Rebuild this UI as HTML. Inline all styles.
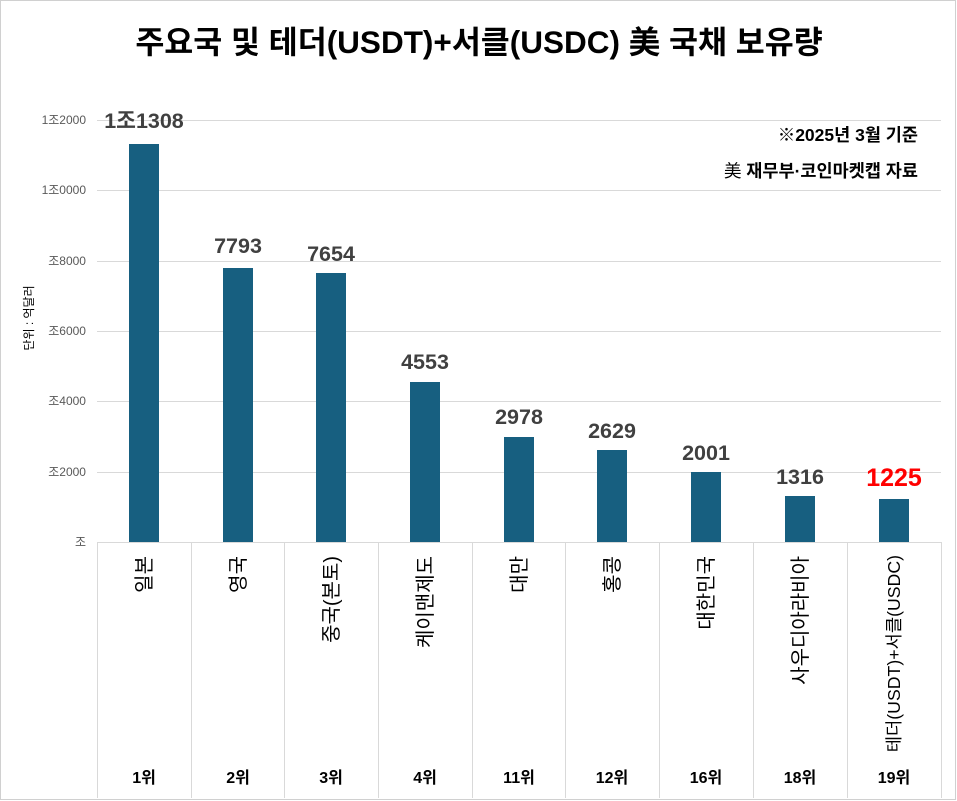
<!DOCTYPE html>
<html><head><meta charset="utf-8"><style>
html,body{margin:0;padding:0;background:#fff;}
svg{display:block;font-family:"Liberation Sans","Noto Sans CJK KR",sans-serif;}
</style></head><body>
<svg width="957" height="801" viewBox="0 0 957 801" xmlns="http://www.w3.org/2000/svg">
<rect x="0.5" y="0.5" width="955" height="799" fill="#fff" stroke="#d0d0d0"/>
<text x="479" y="53" text-anchor="middle" font-size="31.5" font-weight="bold" fill="#000">주요국 및 테더(USDT)+서클(USDC) 美 국채 보유량</text>
<g stroke="#d9d9d9" stroke-width="1">
<line x1="97" y1="120.5" x2="941" y2="120.5"/>
<line x1="97" y1="190.5" x2="941" y2="190.5"/>
<line x1="97" y1="261.5" x2="941" y2="261.5"/>
<line x1="97" y1="331.5" x2="941" y2="331.5"/>
<line x1="97" y1="401.5" x2="941" y2="401.5"/>
<line x1="97" y1="472.5" x2="941" y2="472.5"/>
<line x1="97" y1="542.5" x2="941" y2="542.5"/>
<line x1="97.5" y1="542" x2="97.5" y2="798"/>
<line x1="191.5" y1="542" x2="191.5" y2="798"/>
<line x1="284.5" y1="542" x2="284.5" y2="798"/>
<line x1="378.5" y1="542" x2="378.5" y2="798"/>
<line x1="472.5" y1="542" x2="472.5" y2="798"/>
<line x1="565.5" y1="542" x2="565.5" y2="798"/>
<line x1="659.5" y1="542" x2="659.5" y2="798"/>
<line x1="753.5" y1="542" x2="753.5" y2="798"/>
<line x1="847.5" y1="542" x2="847.5" y2="798"/>
<line x1="941.5" y1="542" x2="941.5" y2="798"/>
</g>
<g font-size="12" fill="#595959" text-anchor="end">
<text x="86" y="124">1조2000</text>
<text x="86" y="194">1조0000</text>
<text x="86" y="265">조8000</text>
<text x="86" y="335">조6000</text>
<text x="86" y="405">조4000</text>
<text x="86" y="476">조2000</text>
<text x="86" y="546">조</text>
</g>
<text transform="translate(33,318) rotate(-90)" text-anchor="middle" font-size="12" fill="#000">단위 : 억달러</text>
<g fill="#175f80">
<rect x="129" y="144" width="30" height="398"/>
<rect x="223" y="268" width="30" height="274"/>
<rect x="316" y="273" width="30" height="269"/>
<rect x="410" y="382" width="30" height="160"/>
<rect x="504" y="437" width="30" height="105"/>
<rect x="597" y="450" width="30" height="92"/>
<rect x="691" y="472" width="30" height="70"/>
<rect x="785" y="496" width="30" height="46"/>
<rect x="879" y="499" width="30" height="43"/>
</g>
<g font-size="21.5" font-weight="bold" fill="#404040" text-anchor="middle">
<text x="144" y="128">1조1308</text>
<text x="238" y="253">7793</text>
<text x="331" y="261">7654</text>
<text x="425" y="369">4553</text>
<text x="519" y="424">2978</text>
<text x="612" y="438">2629</text>
<text x="706" y="460">2001</text>
<text x="800" y="484">1316</text>
<text x="894" y="486" fill="#ff0000" font-size="25">1225</text>
</g>
<g font-size="17.5" font-weight="bold" fill="#000" text-anchor="end">
<text x="918" y="141">※2025년 3월 기준</text>
<text x="918" y="177"><tspan font-weight="normal">美</tspan> 재무부·코인마켓캡 자료</text>
</g>
<g font-size="20" fill="#000" text-anchor="end">
<text transform="translate(151,556) rotate(-90)">일본</text>
<text transform="translate(245,556) rotate(-90)">영국</text>
<text transform="translate(338,556) rotate(-90)">중국(본토)</text>
<text transform="translate(432,556) rotate(-90)">케이맨제도</text>
<text transform="translate(526,556) rotate(-90)">대만</text>
<text transform="translate(619,556) rotate(-90)">홍콩</text>
<text transform="translate(713,556) rotate(-90)">대한민국</text>
<text transform="translate(807,556) rotate(-90)">사우디아라비아</text>
<text transform="translate(900,555) rotate(-90)" font-size="17.7">테더(USDT)+서클(USDC)</text>
</g>
<g font-size="16" font-weight="bold" fill="#000" text-anchor="middle">
<text x="144" y="783">1위</text>
<text x="238" y="783">2위</text>
<text x="331" y="783">3위</text>
<text x="425" y="783">4위</text>
<text x="519" y="783">11위</text>
<text x="612" y="783">12위</text>
<text x="706" y="783">16위</text>
<text x="800" y="783">18위</text>
<text x="894" y="783">19위</text>
</g>
</svg>
</body></html>
